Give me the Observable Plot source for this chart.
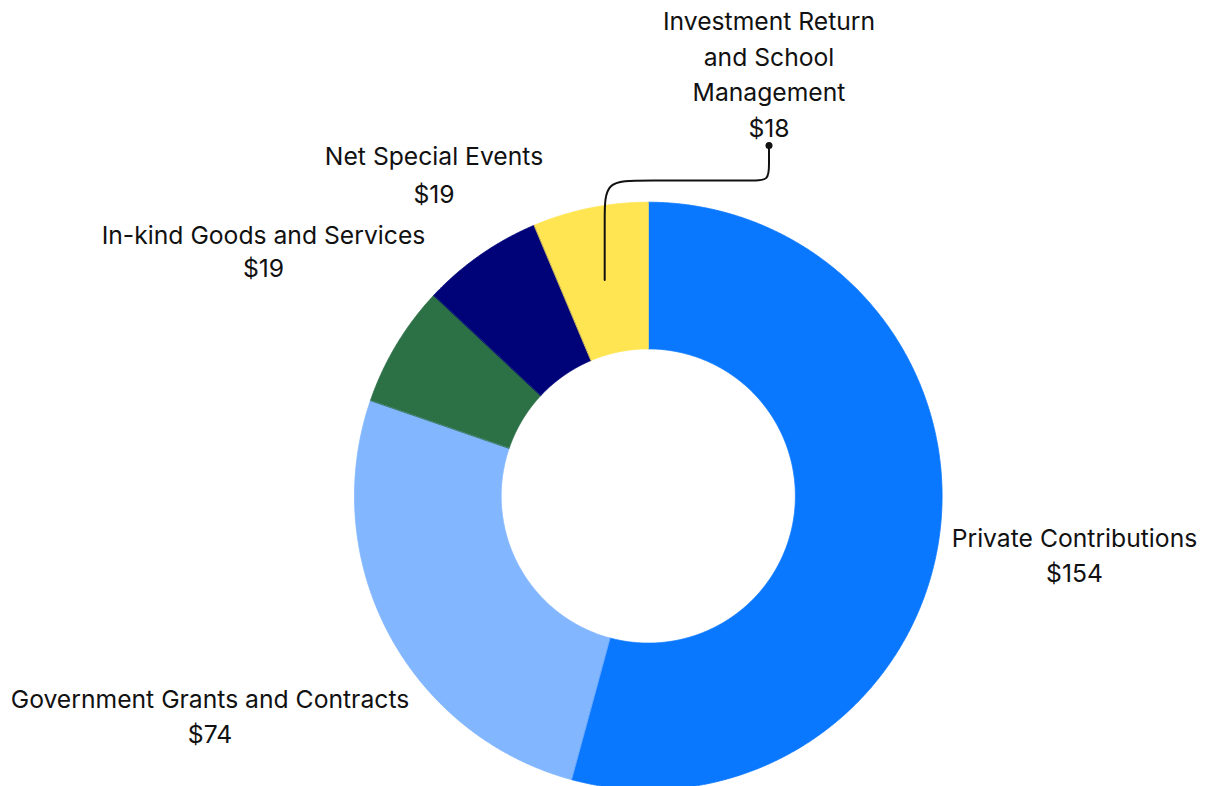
<!DOCTYPE html>
<html>
<head>
<meta charset="utf-8">
<script src="https://cdn.jsdelivr.net/npm/d3@7"></script>
<script src="https://cdn.jsdelivr.net/npm/@observablehq/plot@0.6"></script>
<style>
  html, body { margin: 0; padding: 0; background: #fff; }
  #chart svg { display: block; }
</style>
</head>
<body>
<div id="chart"></div>
<script>
// ---- data ----
const categories = [
  "Private Contributions",
  "Government Grants and Contracts",
  "In-kind Goods and Services",
  "Net Special Events",
  "Investment Return and School Management"
];
const values = [154, 74, 19, 19, 18];
const colors = ["#0A77FF", "#82B6FF", "#2C7046", "#000378", "#FFE552"];
const labelTexts = [
  "Private Contributions",
  "Government Grants and Contracts",
  "In-kind Goods and Services",
  "Net Special Events",
  "Investment Return\nand School\nManagement"
];
const valueLabels = ["$154", "$74", "$19", "$19", "$18"];

// ---- layout (geometry only) ----
const W = 1215, H = 786;
const cx = 647.8, cy = 495.5;
const outerR = 293.8, innerR = 147.1;
const FS = 24.7;
// label placement: polar radius & angle offset (deg) from slice mid-angle, line height px
const labelLayout = [
  {r: 430.5, da: 0.53, lh: 35},
  {r: 491.3, da: 1.03, lh: 35},
  {r: 454.6, da: 1.11, lh: 33},
  {r: 385.5, da: 1.09, lh: 38.5},
  null // uses leader line
];
const textDy = -4;
const leader = {elbowY: -315.5, labelX: 120.7, dotY: -350.5, blockY: -424, lh: 35.5};

// ---- geometry ----
const arcs = d3.pie().sort(null).value(d => d)(values);
const pt = (a, r) => [r * Math.sin(a), -r * Math.cos(a)];

const slicePts = [];
arcs.forEach((a, i) => {
  const n = Math.max(8, Math.ceil((a.endAngle - a.startAngle) / 0.005));
  for (let k = 0; k <= n; k++) {
    const t = a.startAngle + (a.endAngle - a.startAngle) * k / n;
    const [x, y] = pt(t, outerR);
    slicePts.push({cat: categories[i], x, y});
  }
  for (let k = n; k >= 0; k--) {
    const t = a.startAngle + (a.endAngle - a.startAngle) * k / n;
    const [x, y] = pt(t, innerR);
    slicePts.push({cat: categories[i], x, y});
  }
});

const labels = [];
arcs.forEach((a, i) => {
  const L = labelLayout[i];
  if (!L) return;
  const mid = (a.startAngle + a.endAngle) / 2 + L.da * Math.PI / 180;
  const [x, y] = pt(mid, L.r);
  labels.push({x, y, text: labelTexts[i] + "\n" + valueLabels[i], lh: L.lh});
});

// leader for the last (small) slice
const la = arcs[4];
const [sx, sy] = pt((la.startAngle + la.endAngle) / 2, (outerR + innerR) / 2);
const e = leader.elbowY, lx = leader.labelX;
const leaderPts = [
  [sx, sy], [sx, e + 36], [sx, e], [sx + 36, e],
  [lx - 16, e], [lx, e], [lx, e - 16], [lx, leader.dotY]
].map(([x, y]) => ({x, y}));
const invLabel = {x: lx, y: leader.blockY, text: labelTexts[4] + "\n" + valueLabels[4]};

const textMarks = labels.map(l => Plot.text([l], {
  x: "x", y: "y", text: "text", dy: textDy,
  textAnchor: "middle", lineAnchor: "middle",
  lineHeight: l.lh / FS, fontSize: FS, fill: "#111"
}));

const chart = Plot.plot({
  width: W, height: H,
  margin: 0,
  style: {fontFamily: "Inter, 'Noto Sans', sans-serif", background: "#fff"},
  x: {domain: [-cx, W - cx], range: [0, W], axis: null},
  y: {domain: [-cy, H - cy], range: [0, H], axis: null},
  color: {domain: categories, range: colors},
  marks: [
    Plot.line(slicePts, {
      x: "x", y: "y", z: "cat", fill: "cat", stroke: "cat",
      strokeWidth: 0.8, curve: "linear-closed"
    }),
    Plot.line(leaderPts, {x: "x", y: "y", curve: "basis", stroke: "#111", strokeWidth: 2}),
    Plot.dot([leaderPts[leaderPts.length - 1]], {x: "x", y: "y", r: 3.5, fill: "#111", stroke: "none"}),
    ...textMarks,
    Plot.text([invLabel], {
      x: "x", y: "y", text: "text",
      textAnchor: "middle", lineAnchor: "middle",
      lineHeight: leader.lh / FS, fontSize: FS, fill: "#111"
    })
  ]
});
document.getElementById("chart").appendChild(chart);
</script>
</body>
</html>
